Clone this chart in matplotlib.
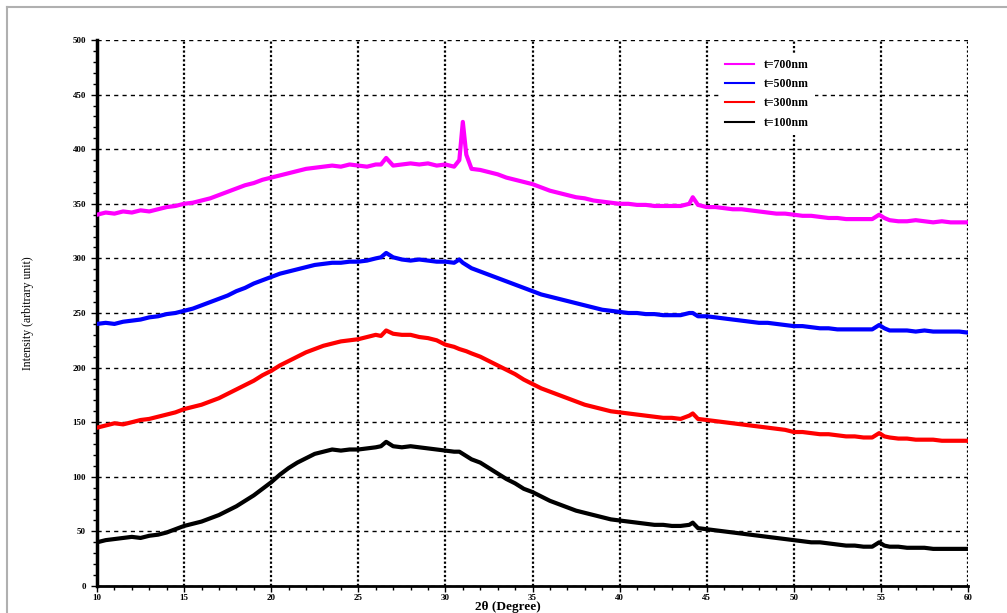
import numpy as np
import matplotlib
matplotlib.use("Agg")
import matplotlib.pyplot as plt
from matplotlib.lines import Line2D
from matplotlib.ticker import MultipleLocator

plt.rcParams['font.family'] = ['Liberation Serif', 'DejaVu Serif']

# 2theta positions (0.5 deg steps plus the small peaks)
two_theta = np.concatenate([
    np.arange(10, 26.01, 0.5), [26.3, 26.6],
    np.arange(27, 30.51, 0.5), [30.8, 31.0, 31.2],
    np.arange(31.5, 44.01, 0.5), [44.2],
    np.arange(44.5, 54.51, 0.5), [54.9, 55.2],
    np.arange(55.5, 60.01, 0.5),
])

t700 = [340, 342, 341, 343, 342, 344, 343, 345, 347, 348, 350, 351, 353, 355, 358, 361, 364,
        367, 369, 372, 374, 376, 378, 380, 382, 383, 384, 385, 384, 386, 385, 384, 386,
        386, 392,
        385, 386, 387, 386, 387, 385, 386, 384,
        390, 425, 395,
        382, 381, 379, 377, 374, 372, 370, 368, 365, 362, 360, 358, 356, 355, 353, 352, 351,
        350, 350, 349, 349, 348, 348, 348, 348, 350,
        356,
        349, 347, 347, 346, 345, 345, 344, 343, 342, 341, 341, 340, 339, 339, 338, 337, 337,
        336, 336, 336, 336,
        340, 337,
        335, 334, 334, 335, 334, 333, 334, 333, 333, 333]

t500 = [240, 241, 240, 242, 243, 244, 246, 247, 249, 250, 252, 254, 257, 260, 263, 266, 270,
        273, 277, 280, 283, 286, 288, 290, 292, 294, 295, 296, 296, 297, 297, 298, 300,
        301, 305,
        301, 299, 298, 299, 298, 297, 297, 296,
        299, 296, 294,
        291, 288, 285, 282, 279, 276, 273, 270, 267, 265, 263, 261, 259, 257, 255, 253, 252,
        251, 250, 250, 249, 249, 248, 248, 248, 250,
        250,
        247, 247, 246, 245, 244, 243, 242, 241, 241, 240, 239, 238, 238, 237, 236, 236, 235,
        235, 235, 235, 235,
        239, 236,
        234, 234, 234, 233, 234, 233, 233, 233, 233, 232]

t300 = [145, 147, 149, 148, 150, 152, 153, 155, 157, 159, 162, 164, 166, 169, 172, 176, 180,
        184, 188, 193, 197, 202, 206, 210, 214, 217, 220, 222, 224, 225, 226, 228, 230,
        229, 234,
        231, 230, 230, 228, 227, 225, 221, 219,
        217, 216, 215,
        213, 210, 206, 202, 198, 194, 189, 185, 181, 178, 175, 172, 169, 166, 164, 162, 160,
        159, 158, 157, 156, 155, 154, 154, 153, 156,
        158,
        153, 152, 151, 150, 149, 148, 147, 146, 145, 144, 143, 141, 141, 140, 139, 139, 138,
        137, 137, 136, 136,
        140, 137,
        136, 135, 135, 134, 134, 134, 133, 133, 133, 133]

t100 = [40, 42, 43, 44, 45, 44, 46, 47, 49, 52, 55, 57, 59, 62, 65, 69, 73,
        78, 83, 89, 95, 102, 108, 113, 117, 121, 123, 125, 124, 125, 125, 126, 127,
        128, 132,
        128, 127, 128, 127, 126, 125, 124, 123,
        123, 121, 119,
        116, 113, 108, 103, 98, 94, 89, 86, 82, 78, 75, 72, 69, 67, 65, 63, 61,
        60, 59, 58, 57, 56, 56, 55, 55, 56,
        58,
        53, 52, 51, 50, 49, 48, 47, 46, 45, 44, 43, 42, 41, 40, 40, 39, 38,
        37, 37, 36, 36,
        40, 37,
        36, 36, 35, 35, 35, 34, 34, 34, 34, 34]

labels = ['t=700nm', 't=500nm', 't=300nm', 't=100nm']
colors = ['#ff00ff', '#0000ff', '#ff0000', '#000000']
series = [t700, t500, t300, t100]

fig = plt.figure(figsize=(10.07, 6.13), dpi=100)
ax = fig.add_axes([97/1007, 27/613, 871/1007, 546/613])

for y, c, lab in zip(series, colors, labels):
    assert len(y) == len(two_theta)
    ax.plot(two_theta, y, color=c, lw=3.0, label=lab, zorder=3)

ax.set_xlim(10, 60)
ax.set_ylim(0, 500)
ax.xaxis.set_major_locator(MultipleLocator(5))
ax.xaxis.set_minor_locator(MultipleLocator(1))
ax.yaxis.set_major_locator(MultipleLocator(50))
ax.yaxis.set_minor_locator(MultipleLocator(10))

# grid: dotted verticals, dashed horizontals
ax.xaxis.grid(True, which='major', color='black', ls=(0, (1, 1)), lw=1.6, zorder=1)
ax.yaxis.grid(True, which='major', color='black', ls=(0, (3, 3)), lw=1.0, zorder=1)

for s in ['top', 'right']:
    ax.spines[s].set_visible(False)
ax.spines['left'].set_linewidth(2.5)
ax.spines['bottom'].set_linewidth(2.0)

ax.tick_params(which='major', direction='out', length=4, width=1, labelsize=6.5)
ax.tick_params(axis='x', which='major', pad=1.5)
ax.tick_params(axis='y', which='major', pad=4)
ax.tick_params(which='minor', direction='out', length=3, width=1)
for t in ax.get_xticklabels() + ax.get_yticklabels():
    t.set_fontweight('bold')

ax.set_ylabel('Intensity (arbitrary unit)', fontsize=8.5, labelpad=28)
fig.text(508/1007, 1 - 607/613, '2θ (Degree)', fontsize=9.5, fontweight='bold',
         ha='center', va='center')

handles = [Line2D([0], [0], color=c, lw=1.5) for c in colors]
leg = ax.legend(handles, labels, loc='upper left',
                bbox_to_anchor=(713/1007, 1 - 47/613), bbox_transform=fig.transFigure,
                prop={'weight': 'bold', 'size': 8.5}, handlelength=2.5,
                labelspacing=0.62, frameon=True, fancybox=False,
                edgecolor='none', facecolor='white', framealpha=1, borderpad=0.5)
leg.set_zorder(5)

# outer gray frame of the picture
fig.add_artist(Line2D([7/1007, 7/1007], [0, 1 - 7/613], color='#b0b0b0', lw=1.5))
fig.add_artist(Line2D([7/1007, 1], [1 - 7/613, 1 - 7/613], color='#b0b0b0', lw=1.5))

fig.savefig('out.png', dpi=100)
